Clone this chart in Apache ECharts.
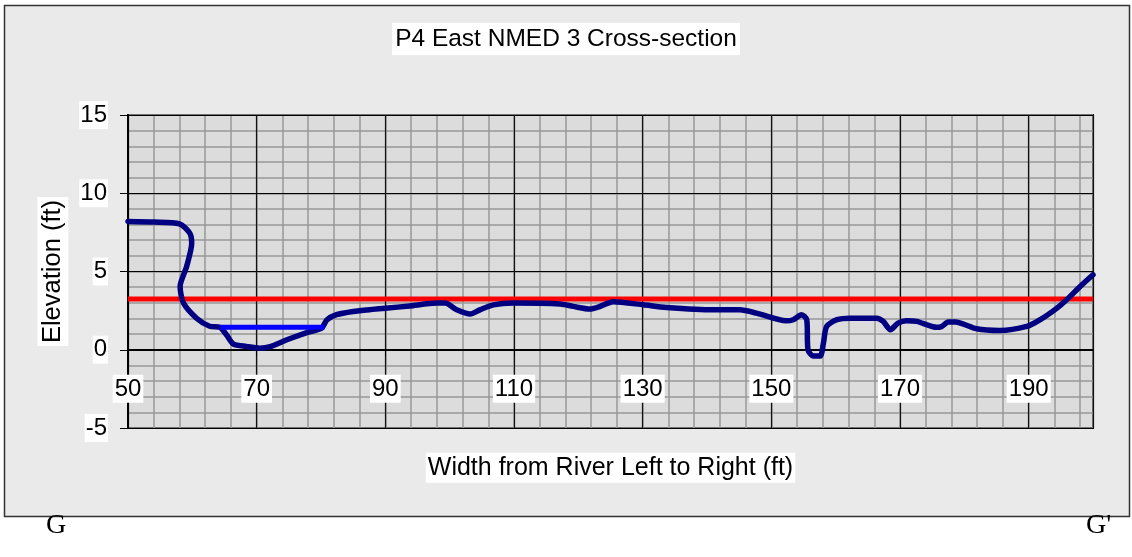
<!DOCTYPE html>
<html>
<head>
<meta charset="utf-8">
<script src="https://cdn.jsdelivr.net/npm/echarts@6/dist/echarts.min.js"></script>
<style>
  html, body { margin: 0; padding: 0; background: #fff; }
  #chart { width: 1132px; height: 557px; }
</style>
</head>
<body>
<div id="chart"></div>
<script>
// ground profile, station (ft) and elevation (ft)
var stationFt = [50, 54, 58, 59.6, 59.9, 59.1, 58.1, 58.6, 60.7, 62.7, 64.3, 65.3, 66.4, 68.4, 70.5,
  72.1, 74.7, 77.8, 80.1, 80.9, 82.4, 85, 88, 90, 93.8, 98, 99.3, 101.1, 103.2, 104.7, 106.8,
  109.9, 117.2, 119.2, 121.8, 123.4, 125.4, 130.1, 133.7, 141, 145.1, 147.7, 152.3, 153.4,
  154.7, 155.5, 155.7, 156.5, 157.6, 158.1, 158.6, 160.2, 162.2, 166.4, 167.4, 168.5, 169.7,
  171, 172.6, 175.7, 176.5, 177.5, 178.6, 181.9, 185.5, 189.7, 191.8, 194.4, 195.9, 198, 200];
var elevFt = [8.2, 8.16, 8.05, 7.45, 6.8, 5.3, 4.05, 3.0, 2.0, 1.5, 1.43, 0.96, 0.36, 0.21, 0.1,
  0.2, 0.64, 1.1, 1.38, 1.9, 2.24, 2.45, 2.58, 2.65, 2.8, 2.98, 2.98, 2.55, 2.28, 2.55, 2.87,
  2.98, 2.92, 2.77, 2.6, 2.77, 3.07, 2.87, 2.7, 2.55, 2.55, 2.34, 1.85, 1.92,
  2.24, 1.92, 0, -0.4, -0.4, 0.43, 1.49, 1.92, 2.02, 2.02, 1.81, 1.28, 1.7,
  1.85, 1.81, 1.43, 1.49, 1.77, 1.77, 1.34, 1.23, 1.49, 1.92, 2.66, 3.19, 4.04, 4.79];

// water surface
var waterX = [64.3, 80.5];
var waterY = [1.43, 1.43];

// red reference line
var refX = [50, 200];
var refY = [3.25, 3.25];

function pairs(xs, ys) {
  var out = [];
  for (var i = 0; i < xs.length; i++) out.push([xs[i], ys[i]]);
  return out;
}

var font = 'Liberation Sans, Arial, sans-serif';
var chart = echarts.init(document.getElementById('chart'));

// grid: top 115, height 313, y from -5 to 15 -> zero line sits 78.25px above the bottom
var zeroOffset = -(313 * 5 / 20);

var option = {
  backgroundColor: '#fff',
  animation: false,
  graphic: [
    {
      type: 'rect', z: -10, silent: true,
      shape: { x: 4.5, y: 5.5, width: 1125, height: 511 },
      style: { fill: '#eaeaea', stroke: '#333', lineWidth: 1.5 }
    },
    {
      type: 'text', left: 46, top: 512,
      style: { text: 'G', font: '28px "Liberation Serif"', fill: '#000' }
    },
    {
      type: 'text', left: 1086, top: 512,
      style: { text: "G'", font: '28px "Liberation Serif"', fill: '#000' }
    }
  ],
  title: {
    text: 'P4 East NMED 3 Cross-section',
    left: 'center',
    top: 23,
    backgroundColor: '#fff',
    padding: [4, 3, 3, 3],
    textStyle: { fontFamily: font, fontSize: 24.5, fontWeight: 'normal', color: '#000' }
  },
  grid: {
    left: 128, top: 115, width: 965, height: 313,
    outerBoundsMode: 'none',
    show: true, backgroundColor: '#dcdcdc', borderColor: '#000', borderWidth: 2
  },
  xAxis: [
    {
      type: 'value', min: 50, max: 200, interval: 20, z: 2,
      offset: zeroOffset,
      name: 'Width from River Left to Right (ft)',
      nameLocation: 'middle', nameGap: 103,
      nameTextStyle: {
        fontFamily: font, fontSize: 25, color: '#000',
        backgroundColor: '#fff', padding: [3, 2, 2, 2], verticalAlign: 'top'
      },
      axisLine: { onZero: false, lineStyle: { color: '#000', width: 2 } },
      axisTick: { show: true, length: 6, lineStyle: { color: '#000', width: 1 } },
      axisLabel: {
        margin: 25, fontFamily: font, fontSize: 24, color: '#000',
        backgroundColor: '#fff', padding: [3, 2, 1, 2], showMaxLabel: false
      },
      splitLine: { show: true, lineStyle: { color: '#111', width: 1.2 } }
    },
    {
      type: 'value', min: 50, max: 200, interval: 4, z: 0,
      axisLine: { show: false }, axisTick: { show: false }, axisLabel: { show: false },
      splitLine: { show: true, lineStyle: { color: '#999', width: 1.5 } }
    }
  ],
  yAxis: [
    {
      type: 'value', min: -5, max: 15, interval: 5, z: 2,
      name: 'Elevation (ft)',
      nameLocation: 'middle', nameGap: 59, nameRotate: 90,
      nameTextStyle: {
        fontFamily: font, fontSize: 25.5, color: '#000',
        backgroundColor: '#fff', padding: [3, 3, 2, 3]
      },
      axisLine: { show: true, onZero: false, lineStyle: { color: '#000', width: 2 } },
      axisTick: { show: true, length: 8, lineStyle: { color: '#000', width: 1 } },
      axisLabel: {
        margin: 20, fontFamily: font, fontSize: 24, color: '#000',
        backgroundColor: '#fff', padding: [3, 1, 1, 1]
      },
      splitLine: { show: true, lineStyle: { color: '#000', width: 1.2 } }
    },
    {
      type: 'value', min: -5, max: 15, interval: 1, z: 0,
      axisLine: { show: false }, axisTick: { show: false }, axisLabel: { show: false },
      splitLine: { show: true, lineStyle: { color: '#999', width: 1.5 } }
    }
  ],
  series: [
    {
      name: 'Reference', type: 'line', xAxisIndex: 0, yAxisIndex: 0,
      data: pairs(refX, refY), showSymbol: false, symbol: 'none',
      lineStyle: { color: '#ff0000', width: 5 }
    },
    {
      name: 'Ground', type: 'line', xAxisIndex: 0, yAxisIndex: 0,
      data: pairs(stationFt, elevFt), showSymbol: false, symbol: 'none', smooth: 0.25,
      lineStyle: { color: '#000080', width: 5.5, cap: 'round', join: 'round' }
    },
    {
      name: 'Water', type: 'line', xAxisIndex: 0, yAxisIndex: 0,
      data: pairs(waterX, waterY), showSymbol: false, symbol: 'none',
      lineStyle: { color: '#0000ff', width: 5 }
    }
  ]
};

chart.setOption(option);
</script>
</body>
</html>
